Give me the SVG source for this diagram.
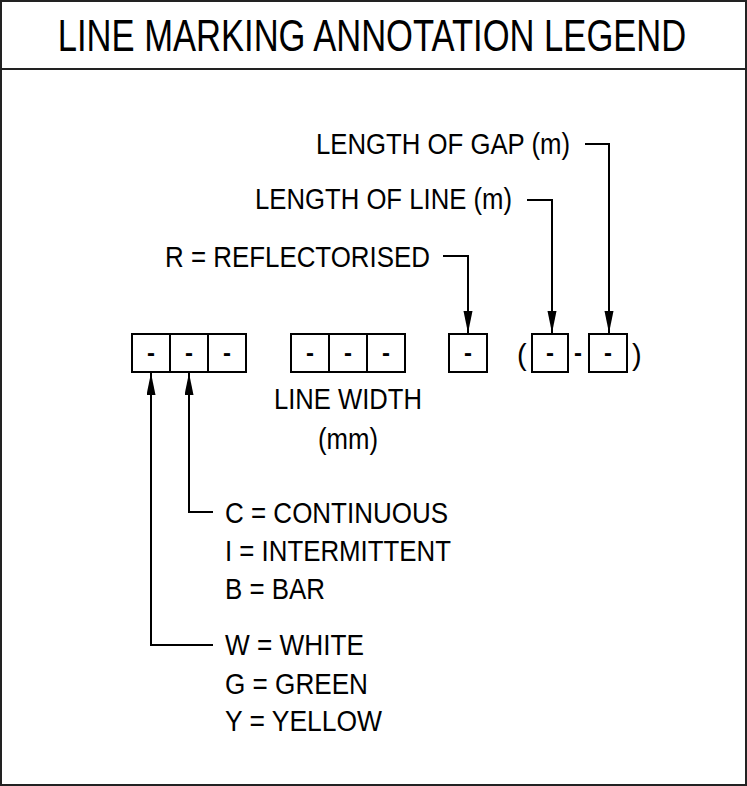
<svg xmlns="http://www.w3.org/2000/svg" width="747" height="786" viewBox="0 0 747 786">
<style>
.t{font-family:"Liberation Sans",Arial,sans-serif;fill:#000}
.lbl{font-size:29px}
.dash{font-size:24px;font-weight:bold;text-anchor:middle}
.box{fill:#fff;stroke:#000;stroke-width:2}
.con{fill:none;stroke:#000;stroke-width:2}
</style>
<defs>
<marker id="ah" markerUnits="userSpaceOnUse" markerWidth="24" markerHeight="10" refX="22" refY="4.5" orient="auto">
<path d="M0,0 L22,4.5 L0,9 z" fill="#000"/>
</marker>
</defs>
<rect x="1" y="1" width="745" height="784" fill="#fff" stroke="#222" stroke-width="2"/>
<line x1="1" y1="69" x2="746" y2="69" stroke="#222" stroke-width="2"/>
<g id="title"><text class="t" transform="translate(372,51) scale(0.768,1)" x="0" y="0" font-size="45" text-anchor="middle">LINE MARKING ANNOTATION LEGEND</text></g>

<g id="boxes-type">
<rect class="box" x="132" y="334" width="38" height="38"/>
<rect class="box" x="170" y="334" width="38" height="38"/>
<rect class="box" x="208" y="334" width="38" height="38"/>
<text class="t dash" x="151" y="361">-</text>
<text class="t dash" x="189" y="361">-</text>
<text class="t dash" x="227" y="361">-</text>
</g>
<g id="boxes-width">
<rect class="box" x="291" y="334" width="38" height="38"/>
<rect class="box" x="329" y="334" width="38" height="38"/>
<rect class="box" x="367" y="334" width="38" height="38"/>
<text class="t dash" x="310" y="361">-</text>
<text class="t dash" x="348" y="361">-</text>
<text class="t dash" x="386" y="361">-</text>
</g>
<g id="box-r">
<rect class="box" x="449" y="334" width="38" height="38"/>
<text class="t dash" x="468" y="361">-</text>
</g>
<g id="boxes-length">
<text class="t lbl" x="517" y="365">(</text>
<rect class="box" x="532" y="334" width="36" height="38"/>
<text class="t dash" x="550" y="361">-</text>
<text class="t dash" x="578" y="361">-</text>
<rect class="box" x="589" y="334" width="38" height="38"/>
<text class="t dash" x="608" y="361">-</text>
<text class="t lbl" x="632" y="365">)</text>
</g>

<g id="label-gap"><text class="t lbl" x="316" y="154" textLength="254" lengthAdjust="spacingAndGlyphs">LENGTH OF GAP (m)</text></g>
<g id="label-line"><text class="t lbl" x="255" y="209" textLength="257" lengthAdjust="spacingAndGlyphs">LENGTH OF LINE (m)</text></g>
<g id="label-r"><text class="t lbl" x="165" y="267" textLength="265" lengthAdjust="spacingAndGlyphs">R = REFLECTORISED</text></g>
<g id="label-width">
<text class="t lbl" x="274" y="409" textLength="148" lengthAdjust="spacingAndGlyphs">LINE WIDTH</text>
<text class="t lbl" x="318" y="449" textLength="60" lengthAdjust="spacingAndGlyphs">(mm)</text>
</g>
<g id="label-type">
<text class="t lbl" x="225" y="523" textLength="223" lengthAdjust="spacingAndGlyphs">C = CONTINUOUS</text>
<text class="t lbl" x="225" y="561" textLength="226" lengthAdjust="spacingAndGlyphs">I = INTERMITTENT</text>
<text class="t lbl" x="225" y="599" textLength="100" lengthAdjust="spacingAndGlyphs">B = BAR</text>
</g>
<g id="label-colour">
<text class="t lbl" x="225" y="655" textLength="139" lengthAdjust="spacingAndGlyphs">W = WHITE</text>
<text class="t lbl" x="225" y="694" textLength="143" lengthAdjust="spacingAndGlyphs">G = GREEN</text>
<text class="t lbl" x="225" y="731" textLength="157" lengthAdjust="spacingAndGlyphs">Y = YELLOW</text>
</g>

<g id="connectors">
<path class="con" d="M443,256 H468 V333" marker-end="url(#ah)"/>
<path class="con" d="M527,200 H552 V333" marker-end="url(#ah)"/>
<path class="con" d="M585,144 H609 V333" marker-end="url(#ah)"/>
<path class="con" d="M213,512 H189 V373" marker-end="url(#ah)"/>
<path class="con" d="M213,645 H151 V373" marker-end="url(#ah)"/>
</g>
</svg>
